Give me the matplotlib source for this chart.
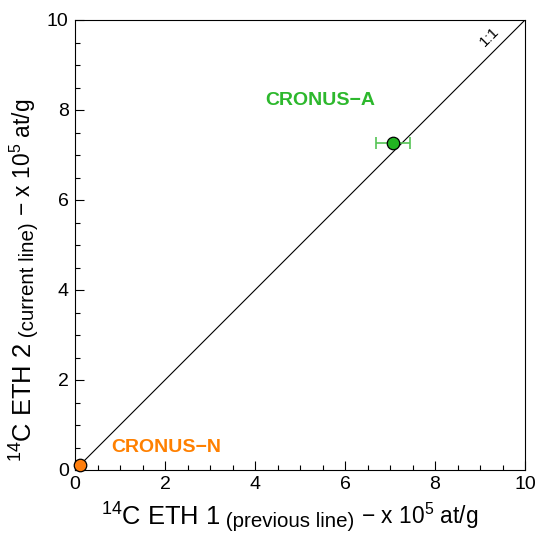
import matplotlib
matplotlib.use("Agg")
import matplotlib.pyplot as plt
from matplotlib.ticker import MultipleLocator

plt.rcParams['font.family'] = ['Liberation Sans', 'DejaVu Sans']
plt.rcParams['mathtext.fontset'] = 'custom'
plt.rcParams['mathtext.rm'] = 'Liberation Sans'
plt.rcParams['mathtext.it'] = 'Liberation Sans:italic'
plt.rcParams['mathtext.bf'] = 'Liberation Sans:bold'

# data (x 10^5 at/g)
samples = ["CRONUS\u2212A", "CRONUS\u2212N"]
eth1 = [7.07, 0.11]
eth1_err = [0.38, 0.0]
eth2 = [7.27, 0.11]
eth2_err = [0.0, 0.0]
colors = ["#22b422", "#ff7f0e"]
text_colors = ["#2db82d", "#ff8000"]
label_pos = [(5.44, 8.22), (2.02, 0.5)]

fig = plt.figure(figsize=(5.39, 5.38), dpi=100)
ax = fig.add_axes([75/539, 68/538, 450/539, 450/538])

ax.plot([0, 10], [0, 10], color="black", lw=0.8)
ax.text(9.22, 9.62, "1:1", rotation=45, ha="center", va="center", fontsize=11)

for i in range(len(samples)):
    if eth1_err[i] > 0 or eth2_err[i] > 0:
        ax.errorbar(eth1[i], eth2[i], xerr=eth1_err[i], fmt="none",
                    ecolor="#55c455", elinewidth=1.2, capsize=4, capthick=1.2, zorder=3)
    ax.plot(eth1[i], eth2[i], "o", ms=9, mfc=colors[i], mec="black", mew=0.9,
            zorder=4, clip_on=False)
    ax.text(*label_pos[i], samples[i], color=text_colors[i], fontsize=14,
            fontweight="bold", ha="center", va="center")

ax.set_xlim(0, 10)
ax.set_ylim(0, 10)
ax.xaxis.set_major_locator(MultipleLocator(2))
ax.yaxis.set_major_locator(MultipleLocator(2))
ax.xaxis.set_minor_locator(MultipleLocator(0.5))
ax.yaxis.set_minor_locator(MultipleLocator(0.5))
ax.tick_params(which="both", direction="in", top=False, right=False, labelsize=14)
ax.tick_params(which="major", length=6.5, width=0.8)
ax.tick_params(axis="x", which="major", pad=4)
ax.tick_params(axis="y", which="major", pad=4.5)
ax.tick_params(which="minor", length=3.5, width=0.8)
for s in ax.spines.values():
    s.set_linewidth(0.8)

# x label: pieces of different size
parts_x = [("$^{14}$C ETH 1", 18.4), (" (previous line)", 14.8), (" \u2212 x 10$^{5}$ at/g", 16.4)]
t = fig.text(101/539, 7/538, parts_x[0][0], fontsize=parts_x[0][1], va="bottom", ha="left")
for s, fs in parts_x[1:]:
    t = ax.annotate(s, xy=(1, 0), xycoords=t, va="bottom", ha="left", fontsize=fs)

# y label
parts_y = [("$^{14}$C ETH 2", 18.4), (" (current line)", 14.8), (" \u2212 x 10$^{5}$ at/g", 16.4)]
t = fig.text(38/539, 76/538, parts_y[0][0], fontsize=parts_y[0][1], rotation=90,
             va="bottom", ha="right")
for s, fs in parts_y[1:]:
    t = ax.annotate(s, xy=(1, 1), xycoords=t, va="bottom", ha="right", fontsize=fs,
                    rotation=90)

fig.savefig("out.png", dpi=100)
